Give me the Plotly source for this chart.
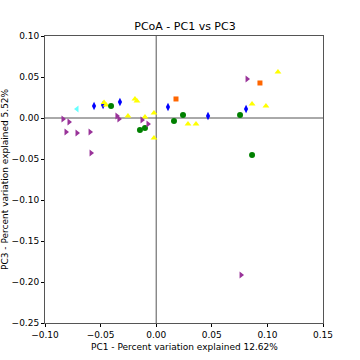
import plotly.graph_objects as go

blue_x = [-0.0559, -0.0478, -0.0326, 0.0106, 0.0466, 0.0808]
blue_y = [0.0146, 0.0159, 0.0195, 0.0134, 0.0024, 0.0110]

yellow_x = [-0.0469, -0.0451, -0.0191, -0.0173, -0.0254, -0.0101, -0.0020, -0.0020, 0.0286, 0.0358, 0.0862, 0.0987, 0.1095]
yellow_y = [0.0189, 0.0159, 0.0232, 0.0207, 0.0024, 0.0012, 0.0061, -0.0244, -0.0073, -0.0073, 0.0171, 0.0146, 0.0561]

green_x = [-0.0406, -0.0146, -0.0101, 0.0160, 0.0241, 0.0754, 0.0862]
green_y = [0.0146, -0.0146, -0.0122, -0.0037, 0.0037, 0.0037, -0.0451]

orange_x = [0.0178, 0.0933]
orange_y = [0.0232, 0.0427]

purple_x = [-0.0838, -0.0784, -0.0811, -0.0712, -0.0595, -0.0586, -0.0353, -0.0335, -0.0128, -0.0074, 0.0817, 0.0763]
purple_y = [-0.0012, -0.0049, -0.0171, -0.0183, -0.0171, -0.0427, 0.0024, -0.0012, -0.0024, -0.0073, 0.0476, -0.1915]

cyan_x = [-0.0712]
cyan_y = [0.0110]

x_ticks = [-0.10, -0.05, 0.0, 0.05, 0.10, 0.15]
y_ticks = [-0.25, -0.20, -0.15, -0.10, -0.05, 0.0, 0.05, 0.10]

series = [
    (blue_x, blue_y, "#0000ff", "diamond-tall", 6),
    (yellow_x, yellow_y, "#ffff00", "triangle-up", 6),
    (green_x, green_y, "#008000", "circle", 6),
    (orange_x, orange_y, "#ff6600", "square", 5),
    (purple_x, purple_y, "#993399", "triangle-right", 6),
    (cyan_x, cyan_y, "#66ffff", "triangle-left", 6),
]

fig = go.Figure()
for xs, ys, col, sym, sz in series:
    fig.add_trace(go.Scatter(
        x=xs, y=ys, mode="markers",
        marker=dict(color=col, symbol=sym, size=sz, line=dict(width=0)),
        showlegend=False,
    ))

fig.add_shape(type="line", x0=0, x1=0, y0=-0.25, y1=0.10, xref="x", yref="y",
              line=dict(color="#555555", width=1), layer="below")
fig.add_shape(type="line", x0=-0.10, x1=0.15, y0=0, y1=0, xref="x", yref="y",
              line=dict(color="#555555", width=1), layer="below")

axis_common = dict(
    showgrid=False, zeroline=False, showline=True, mirror=True,
    linecolor="#555555", linewidth=1, ticks="outside", ticklen=3,
    tickcolor="black", tickformat=".2f", automargin=False,
    tickfont=dict(family="DejaVu Sans", size=9, color="black"),
)

fig.update_layout(
    width=360, height=360,
    margin=dict(l=45, r=37, t=36, b=37),
    paper_bgcolor="white", plot_bgcolor="white",
    title=dict(text="PCoA - PC1 vs PC3", x=185 / 360, xanchor="center",
               xref="container", y=1 - 26.5 / 360, yanchor="middle", yref="container",
               font=dict(family="DejaVu Sans", size=11, color="black")),
    xaxis=dict(range=[-0.10, 0.15], tickvals=x_ticks, **axis_common),
    yaxis=dict(range=[-0.25, 0.10], tickvals=y_ticks, **axis_common),
    annotations=[
        dict(text="PC1 - Percent variation explained 12.62%", xref="paper", yref="paper",
             x=0.5, y=(323 - 347) / 287, xanchor="center", yanchor="middle", showarrow=False,
             font=dict(family="DejaVu Sans", size=9, color="black")),
        dict(text="PC3 - Percent variation explained 5.52%", xref="paper", yref="paper",
             x=(4.5 - 45) / 278, y=0.5, xanchor="center", yanchor="middle", showarrow=False,
             textangle=-90, font=dict(family="DejaVu Sans", size=9, color="black")),
    ],
)

fig.write_html("out.html", config={"displayModeBar": False},
               post_script="document.body.style.margin='0';")
